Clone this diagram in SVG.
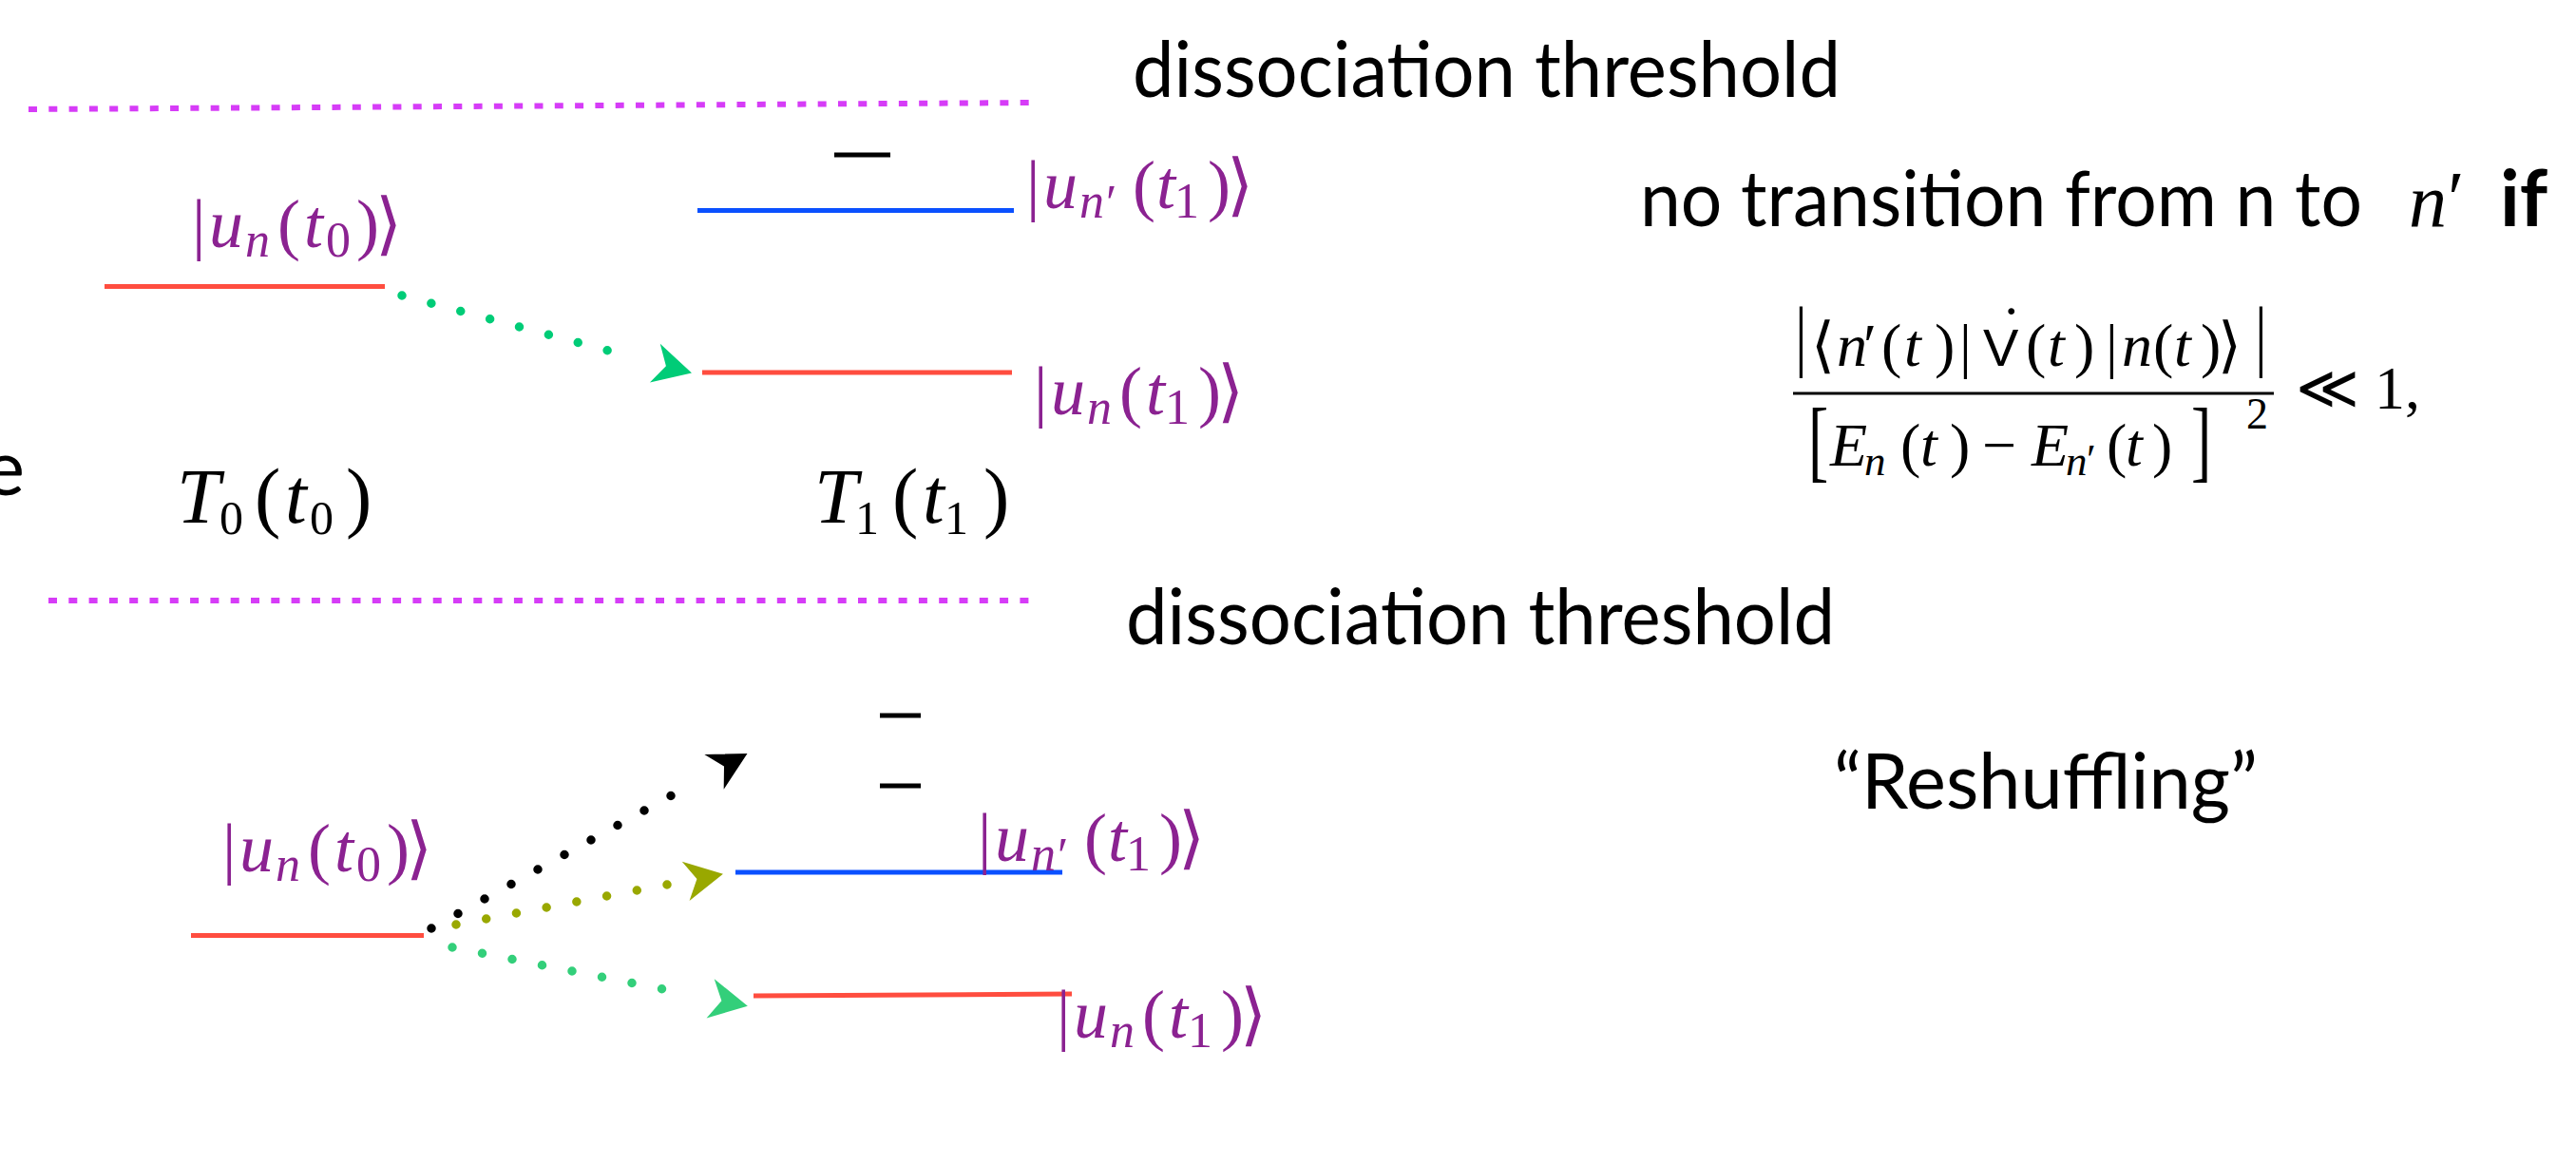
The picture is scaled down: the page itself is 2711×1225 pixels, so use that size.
<svg xmlns="http://www.w3.org/2000/svg" width="2711" height="1225" viewBox="0 0 2711 1225">
<style>
.bg{fill:#ffffff}
.txt{font-family:Lato,"Liberation Sans",sans-serif;font-size:82px;fill:#000}
.m{font-family:"Liberation Serif","DejaVu Serif",serif;font-size:72px;fill:#8b2291}
.mk{font-family:"Liberation Serif","DejaVu Serif",serif;fill:#000}
.it{font-style:italic}
.sub{font-size:52px}
.lvl{stroke-width:5;fill:none}
.red{stroke:#ff4d3f}
.blue{stroke:#0a50ff}
.blk{stroke:#000}
.thr{stroke:#d63cf7;stroke-width:6;stroke-dasharray:9 12.3;fill:none}
.dots{fill:none;stroke-width:9.5;stroke-linecap:round;stroke-dasharray:0 1}
</style>
<defs>
<marker id="ahG" markerUnits="userSpaceOnUse" orient="auto" refX="0" refY="0" markerWidth="80" markerHeight="60" viewBox="-10 -30 80 60" overflow="visible"><polygon points="60,0 20,-21 32,0 20,21" fill="#00cc77"/></marker>
<marker id="ahG2" markerUnits="userSpaceOnUse" orient="auto" refX="0" refY="0" markerWidth="80" markerHeight="60" viewBox="-10 -30 80 60" overflow="visible"><polygon points="60,0 20,-21 32,0 20,21" fill="#33cf7a"/></marker>
<marker id="ahO" markerUnits="userSpaceOnUse" orient="auto" refX="0" refY="0" markerWidth="80" markerHeight="60" viewBox="-10 -30 80 60" overflow="visible"><polygon points="60,0 20,-21 32,0 20,21" fill="#99a800"/></marker>
<marker id="ahK" markerUnits="userSpaceOnUse" orient="auto" refX="0" refY="0" markerWidth="80" markerHeight="60" viewBox="-10 -30 80 60" overflow="visible"><polygon points="60,0 20,-21 32,0 20,21" fill="#000000"/></marker>
</defs>
<rect class="bg" x="0" y="0" width="2711" height="1225"/>

<g id="thresholds">
<line class="thr" x1="30" y1="115" x2="1088" y2="108"/>
<line class="thr" x1="51" y1="632" x2="1087" y2="632"/>
</g>

<g id="texts">
<text class="txt" x="1192" y="102" textLength="745" lengthAdjust="spacingAndGlyphs">dissociation threshold</text>
<text class="txt" x="1185" y="678" textLength="746" lengthAdjust="spacingAndGlyphs">dissociation threshold</text>
<text class="txt" x="1726" y="238" textLength="760" lengthAdjust="spacingAndGlyphs">no transition from n to</text>
<text class="mk it" x="2535" y="238" font-size="80">n</text>
<text class="mk" x="2576" y="236" font-size="80">′</text>
<text class="txt" x="2631" y="238" font-weight="700">if</text>
<text class="txt" x="1930" y="851" textLength="446" lengthAdjust="spacingAndGlyphs">“Reshuffling”</text>
<text class="txt" x="26" y="521" text-anchor="end">e</text>
</g>

<g id="node-top-n-t0">
<line class="lvl red" x1="110" y1="301.5" x2="405" y2="301.5"/>
<text class="m" y="260"><tspan x="202">|</tspan><tspan x="220" class="it">u</tspan><tspan x="258" y="270" class="it sub">n</tspan><tspan x="292" y="260">(</tspan><tspan x="320" class="it">t</tspan><tspan x="343" y="270" class="sub">0</tspan><tspan x="375" y="260">)</tspan><tspan x="395">⟩</tspan></text>
</g>

<g id="node-top-nprime-t1">
<line class="lvl blue" x1="734" y1="221.5" x2="1067" y2="221.5"/>
<line class="lvl blk" x1="878" y1="163" x2="937" y2="163"/>
<text class="m" y="219"><tspan x="1080">|</tspan><tspan x="1098" class="it">u</tspan><tspan x="1136" y="229" class="it sub">n</tspan><tspan x="1164" y="231" class="sub">′</tspan><tspan x="1192" y="219">(</tspan><tspan x="1217" class="it">t</tspan><tspan x="1236" y="229" class="sub">1</tspan><tspan x="1271" y="219">)</tspan><tspan x="1291">⟩</tspan></text>
</g>

<g id="node-top-n-t1">
<line class="lvl red" x1="739" y1="392" x2="1065" y2="392"/>
<text class="m" y="436"><tspan x="1088">|</tspan><tspan x="1106" class="it">u</tspan><tspan x="1144" y="446" class="it sub">n</tspan><tspan x="1178" y="436">(</tspan><tspan x="1206" class="it">t</tspan><tspan x="1226" y="446" class="sub">1</tspan><tspan x="1261" y="436">)</tspan><tspan x="1281">⟩</tspan></text>
</g>

<g id="time-labels">
<text class="mk" y="550" font-size="82"><tspan x="186" class="it">T</tspan><tspan x="231" y="562" font-size="50">0</tspan><tspan x="268" y="550">(</tspan><tspan x="300" class="it">t</tspan><tspan x="326" y="562" font-size="50">0</tspan><tspan x="364" y="550">)</tspan></text>
<text class="mk" y="550" font-size="82"><tspan x="857" class="it">T</tspan><tspan x="900" y="562" font-size="50">1</tspan><tspan x="939" y="550">(</tspan><tspan x="971" class="it">t</tspan><tspan x="994" y="562" font-size="50">1</tspan><tspan x="1035" y="550">)</tspan></text>
</g>

<g id="formula">
<text class="mk" font-size="64" transform="translate(1889,380) scale(1,1.3)" x="0" y="0">|</text>
<text class="mk" y="385" font-size="64"><tspan x="1906">⟨</tspan><tspan x="1933" class="it">n</tspan><tspan x="1961">′</tspan><tspan x="1980">(</tspan><tspan x="2004" class="it">t</tspan><tspan x="2036">)</tspan><tspan x="2062">|</tspan><tspan x="2087" font-size="56" font-family="'Liberation Sans',sans-serif">V</tspan><tspan x="2106" y="366">˙</tspan><tspan x="2132" y="385">(</tspan><tspan x="2155" class="it">t</tspan><tspan x="2183">)</tspan><tspan x="2216">|</tspan><tspan x="2233" class="it">n</tspan><tspan x="2266">(</tspan><tspan x="2288" class="it">t</tspan><tspan x="2316">)</tspan><tspan x="2334">⟩</tspan></text>
<text class="mk" font-size="64" transform="translate(2373,380) scale(1,1.3)" x="0" y="0">|</text>
<line x1="1887" y1="414" x2="2393" y2="414" stroke="#000" stroke-width="3"/>
<text class="mk" font-size="64" transform="translate(1903,495) scale(1,1.5)" x="0" y="0">[</text>
<text class="mk" y="490" font-size="64"><tspan x="1926" class="it">E</tspan><tspan x="1962" y="500" font-size="45" class="it">n</tspan><tspan x="2000" y="490">(</tspan><tspan x="2021" class="it">t</tspan><tspan x="2052">)</tspan><tspan x="2086">−</tspan><tspan x="2138" class="it">E</tspan><tspan x="2174" y="500" font-size="45" class="it">n</tspan><tspan x="2196" y="498" font-size="45">′</tspan><tspan x="2217" y="490">(</tspan><tspan x="2237" class="it">t</tspan><tspan x="2265">)</tspan><tspan x="2364" y="451" font-size="46">2</tspan></text>
<text class="mk" font-size="64" transform="translate(2306,495) scale(1,1.5)" x="0" y="0">]</text>
<text class="mk" y="430" font-size="64"><tspan x="2416">≪</tspan><tspan x="2499">1,</tspan></text>
</g>

<g id="node-low-n-t0">
<line class="lvl red" x1="201" y1="984.5" x2="446" y2="984.5"/>
<text class="m" y="917"><tspan x="234">|</tspan><tspan x="252" class="it">u</tspan><tspan x="290" y="927" class="it sub">n</tspan><tspan x="324" y="917">(</tspan><tspan x="352" class="it">t</tspan><tspan x="375" y="927" class="sub">0</tspan><tspan x="407" y="917">)</tspan><tspan x="427">⟩</tspan></text>
</g>

<g id="node-low-continuum">
<line class="lvl blk" x1="926" y1="753" x2="969" y2="753"/>
<line class="lvl blk" x1="926" y1="827" x2="969" y2="827"/>
</g>

<g id="node-low-nprime-t1">
<line class="lvl blue" x1="774" y1="918" x2="1118" y2="918"/>
<text class="m" y="906"><tspan x="1029">|</tspan><tspan x="1047" class="it">u</tspan><tspan x="1085" y="916" class="it sub">n</tspan><tspan x="1113" y="918" class="sub">′</tspan><tspan x="1141" y="906">(</tspan><tspan x="1166" class="it">t</tspan><tspan x="1185" y="916" class="sub">1</tspan><tspan x="1220" y="906">)</tspan><tspan x="1240">⟩</tspan></text>
</g>

<g id="node-low-n-t1">
<line class="lvl red" x1="793" y1="1048" x2="1128" y2="1046"/>
<text class="m" y="1092"><tspan x="1112">|</tspan><tspan x="1130" class="it">u</tspan><tspan x="1168" y="1102" class="it sub">n</tspan><tspan x="1202" y="1092">(</tspan><tspan x="1230" class="it">t</tspan><tspan x="1250" y="1102" class="sub">1</tspan><tspan x="1285" y="1092">)</tspan><tspan x="1305">⟩</tspan></text>
</g>

<g id="connectors">
<path class="dots" d="M423,311 L670,377" pathLength="8" stroke="#00cc77" marker-end="url(#ahG)"/>
<path class="dots" d="M454,977 L734,822" pathLength="10" stroke="#000000" marker-end="url(#ahK)"/>
<path class="dots" d="M480,973 L702,931" pathLength="7" stroke="#99a800" marker-end="url(#ahO)"/>
<path class="dots" d="M476,997 L728,1047" pathLength="8" stroke="#33cf7a" marker-end="url(#ahG2)"/>
</g>
</svg>
